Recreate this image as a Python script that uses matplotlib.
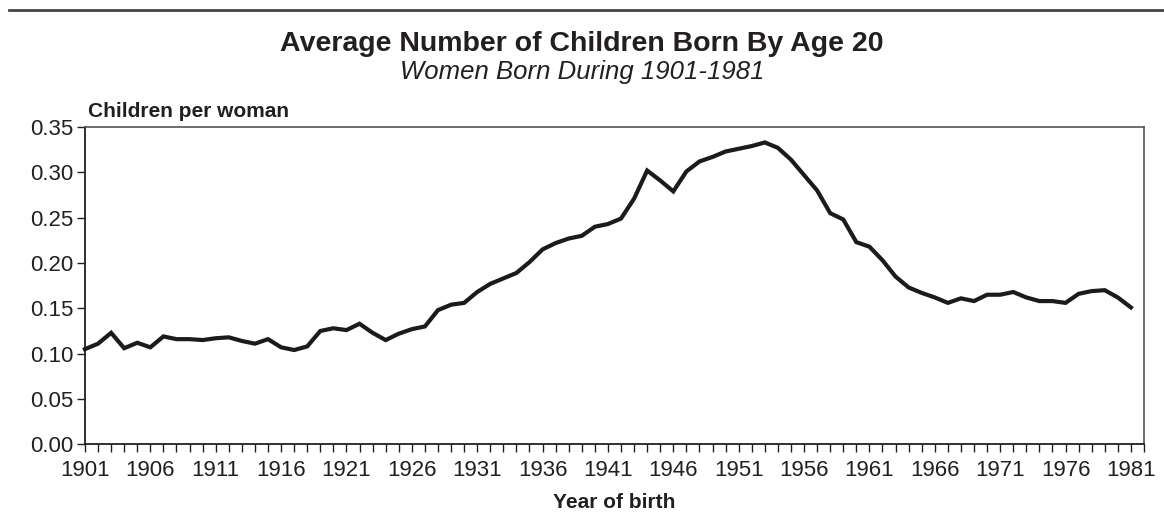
import matplotlib
matplotlib.use("Agg")
import matplotlib.pyplot as plt
import numpy as np

plt.rcParams['font.family'] = ['Liberation Sans', 'DejaVu Sans']

FIRST_YEAR = 1901
LAST_YEAR = 1981
years = list(range(FIRST_YEAR, LAST_YEAR + 1))

# children per woman by age 20
children = [
    0.105, 0.111, 0.123, 0.106, 0.112, 0.107, 0.119, 0.116, 0.116, 0.115,  # 1901-1910
    0.117, 0.118, 0.114, 0.111, 0.116, 0.107, 0.104, 0.108, 0.125, 0.128,  # 1911-1920
    0.126, 0.133, 0.123, 0.115, 0.122, 0.127, 0.130, 0.148, 0.154, 0.156,  # 1921-1930
    0.168, 0.177, 0.183, 0.189, 0.201, 0.215, 0.222, 0.227, 0.230, 0.240,  # 1931-1940
    0.243, 0.249, 0.271, 0.302, 0.291, 0.279, 0.301, 0.312, 0.317, 0.323,  # 1941-1950
    0.326, 0.329, 0.333, 0.327, 0.314, 0.297, 0.280, 0.255, 0.248, 0.223,  # 1951-1960
    0.218, 0.203, 0.185, 0.173, 0.167, 0.162, 0.156, 0.161, 0.158, 0.165,  # 1961-1970
    0.165, 0.168, 0.162, 0.158, 0.158, 0.156, 0.166, 0.169, 0.170, 0.162,  # 1971-1980
    0.151,                                                                 # 1981
]

yticks = [0.00, 0.05, 0.10, 0.15, 0.20, 0.25, 0.30, 0.35]
xlabel_years = list(range(FIRST_YEAR, LAST_YEAR + 1, 5))

TEXT = "#231f20"

fig = plt.figure(figsize=(11.64, 5.13), dpi=100)
ax = fig.add_axes([0.0730, 0.1339, 0.9828 - 0.0730, 0.7524 - 0.1339])

ax.plot(years, children, color="#1c1a1b", lw=3.0, solid_joinstyle='miter',
        clip_on=False, zorder=3)

ax.set_xlim(FIRST_YEAR, LAST_YEAR + 1)
ax.set_ylim(0, 0.35)

all_ticks = list(range(FIRST_YEAR, LAST_YEAR + 2))
ax.set_xticks(all_ticks)
ax.set_xticklabels([str(y) if y in xlabel_years else "" for y in all_ticks])
ax.set_yticks(yticks)
ax.set_yticklabels(["%.2f" % v for v in yticks])

ax.tick_params(axis='both', direction='out', length=6, width=1.0, colors=TEXT,
               labelsize=16, labelcolor=TEXT)
ax.tick_params(axis='x', pad=5)
ax.tick_params(axis='y', pad=2)

for side in ["left", "bottom"]:
    ax.spines[side].set_color(TEXT)
    ax.spines[side].set_linewidth(1.3)
for side in ["top", "right"]:
    ax.spines[side].set_color("#555555")
    ax.spines[side].set_linewidth(1.2)

ax.set_xlabel("Year of birth", fontsize=15, fontweight='bold', color=TEXT, labelpad=9)

fig.text(0.0756, 0.772, "Children per woman", fontsize=15, fontweight='bold',
         color=TEXT, ha='left', va='baseline')
fig.text(0.5, 0.914, "Average Number of Children Born By Age 20", fontsize=20.5,
         fontweight='bold', color=TEXT, ha='center', va='center')
fig.text(0.5, 0.860, "Women Born During 1901-1981", fontsize=18.5,
         fontstyle='italic', color=TEXT, ha='center', va='center')

# rule across the top of the figure
fig.add_artist(plt.Line2D([0.008, 1.0], [0.980, 0.980], transform=fig.transFigure,
                          color="#444444", lw=2.0))

fig.savefig("out.png", dpi=100)
